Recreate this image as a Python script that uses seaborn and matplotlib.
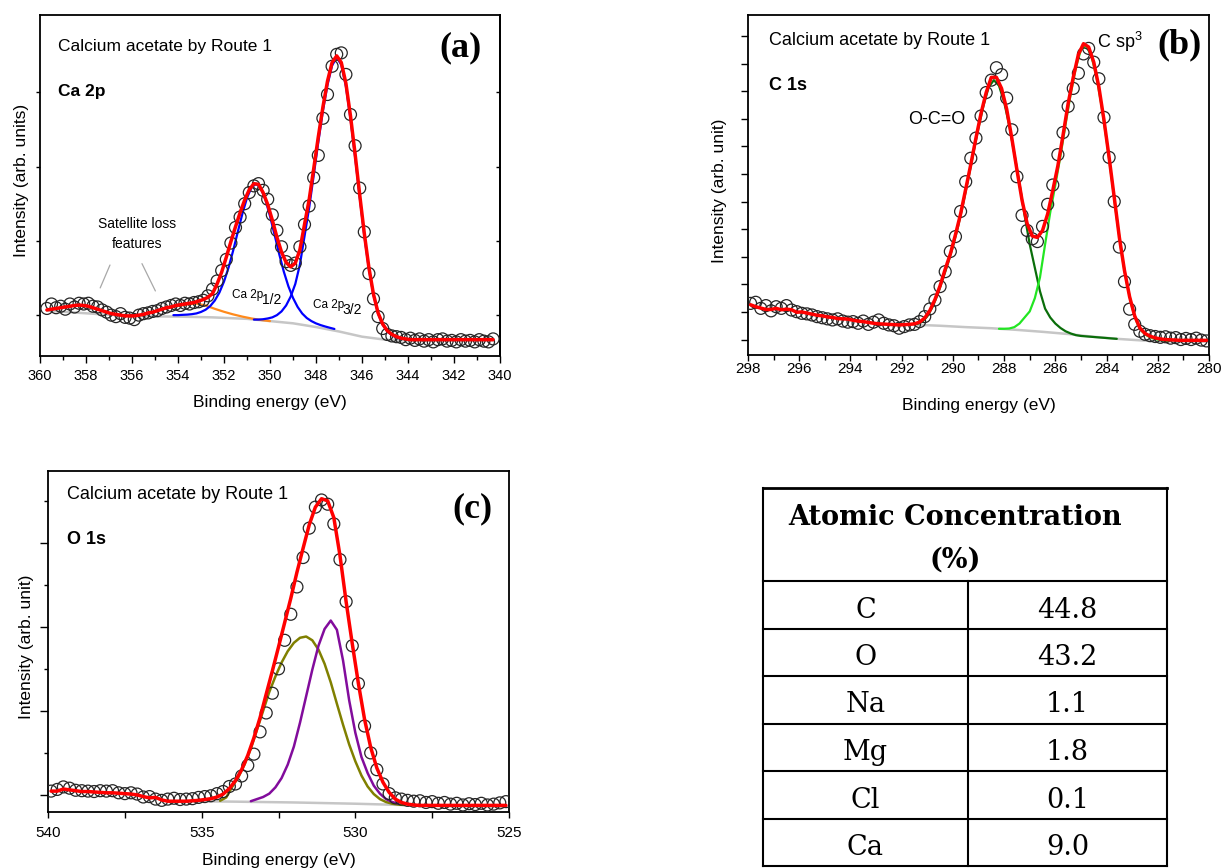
import numpy as np
import matplotlib
matplotlib.use("Agg")
import matplotlib.pyplot as plt
from matplotlib.ticker import MultipleLocator, FixedLocator
import seaborn as sns

# ======================= DATA =======================
# ---- (a) Ca 2p ----
a_energy = np.round(np.arange(359.7, 340.2, -0.2), 1)
a_counts = [0.09, 0.15, 0.10, 0.12, 0.08, 0.15, 0.11, 0.16, 0.15, 0.16,
            0.12, 0.11, 0.07, 0.04, 0.00, -0.02, 0.02, -0.03, -0.04, -0.06,
            0.00, 0.02, 0.03, 0.05, 0.06, 0.09, 0.11, 0.13, 0.15, 0.13,
            0.16, 0.15, 0.17, 0.18, 0.20, 0.26, 0.35, 0.46, 0.60, 0.75,
            0.97, 1.18, 1.32, 1.50, 1.65, 1.74, 1.77, 1.68, 1.56, 1.35,
            1.14, 0.92, 0.72, 0.67, 0.70, 0.92, 1.22, 1.47, 1.85, 2.15,
            2.65, 2.97, 3.35, 3.51, 3.53, 3.24, 2.70, 2.28, 1.71, 1.12,
            0.56, 0.22, -0.02, -0.18, -0.26, -0.28, -0.29, -0.30, -0.33, -0.31,
            -0.34, -0.32, -0.35, -0.33, -0.36, -0.33, -0.32, -0.35, -0.34, -0.36,
            -0.33, -0.35, -0.34, -0.36, -0.33, -0.35, -0.36, -0.32]
a_fit = [0.07, 0.08, 0.09, 0.10, 0.11, 0.12, 0.13, 0.135, 0.13, 0.12,
         0.10, 0.08, 0.06, 0.04, 0.02, 0.01, 0.00, -0.01, -0.01, -0.01,
         0.00, 0.01, 0.03, 0.04, 0.06, 0.08, 0.10, 0.11, 0.13, 0.14,
         0.15, 0.16, 0.17, 0.19, 0.21, 0.24, 0.29, 0.42, 0.58, 0.78,
         0.99, 1.19, 1.38, 1.55, 1.69, 1.77, 1.76, 1.65, 1.49, 1.28,
         1.05, 0.85, 0.71, 0.65, 0.70, 0.88, 1.22, 1.55, 1.97, 2.40,
         2.80, 3.15, 3.40, 3.49, 3.40, 3.12, 2.68, 2.17, 1.62, 1.10,
         0.64, 0.28, 0.03, -0.12, -0.21, -0.26, -0.29, -0.31, -0.32, -0.33,
         -0.33, -0.33, -0.33, -0.33, -0.33, -0.33, -0.33, -0.33, -0.33, -0.33,
         -0.33, -0.33, -0.33, -0.33, -0.33, -0.33, -0.33, -0.33]
a_bg_energy = [359.7, 358.5, 357.0, 355.5, 354.0, 352.5, 351.0, 350.0,
               349.0, 348.0, 347.0, 346.0, 345.0, 344.0, 342.0, 340.3]
a_bg = [0.06, 0.035, 0.005, -0.015, -0.02, -0.03, -0.05, -0.08,
        -0.11, -0.16, -0.22, -0.29, -0.33, -0.34, -0.34, -0.34]
a_sat_energy = [355.6, 355.2, 354.8, 354.4, 354.0, 353.6, 353.2, 352.8,
                352.4, 352.0, 351.6, 351.2, 350.8, 350.4, 350.0]
a_sat = [0.0, 0.03, 0.07, 0.10, 0.125, 0.145, 0.155, 0.13,
         0.085, 0.045, 0.01, -0.02, -0.045, -0.065, -0.08]
a_p12_energy = np.round(np.arange(354.2, 347.1, -0.2), 1)
a_p12 = [0.00, 0.00, 0.004, 0.007, 0.013, 0.023, 0.043, 0.073, 0.122, 0.197,
         0.304, 0.452, 0.642, 0.871, 1.121, 1.366, 1.579, 1.721, 1.768, 1.709,
         1.555, 1.333, 1.08, 0.823, 0.586, 0.388, 0.232, 0.111, 0.022, -0.039,
         -0.08, -0.111, -0.134, -0.153, -0.17, -0.186]
a_p32_energy = np.round(np.arange(350.7, 344.2, -0.2), 1)
a_p32 = [-0.06, -0.06, -0.055, -0.045, -0.03, 0.0, 0.05, 0.13, 0.25, 0.42,
         0.68, 1.06, 1.44, 1.88, 2.33, 2.75, 3.10, 3.36, 3.47, 3.37,
         3.08, 2.64, 2.13, 1.59, 1.07, 0.62, 0.27, 0.02, -0.13, -0.22,
         -0.27, -0.30, -0.32]

# ---- (b) C 1s ----
b_energy = np.round(np.arange(297.9, 280.0, -0.2), 1)
b_counts = [0.31, 0.35, 0.13, 0.23, 0.04, 0.19, 0.13, 0.23, 0.07, 0.01,
            -0.05, -0.07, -0.11, -0.17, -0.21, -0.25, -0.29, -0.25, -0.33, -0.37,
            -0.35, -0.41, -0.33, -0.45, -0.37, -0.29, -0.41, -0.47, -0.50, -0.59,
            -0.53, -0.47, -0.45, -0.35, -0.17, 0.11, 0.43, 0.92, 1.46, 2.19,
            2.73, 3.64, 4.72, 5.57, 6.30, 7.10, 7.95, 8.40, 8.85, 8.60,
            7.75, 6.60, 4.90, 3.50, 2.95, 2.65, 2.55, 3.10, 3.90, 4.60,
            5.70, 6.50, 7.45, 8.10, 8.65, 9.35, 9.55, 9.05, 8.45, 7.05,
            5.60, 4.00, 2.35, 1.10, 0.10, -0.45, -0.70, -0.81, -0.86, -0.89,
            -0.92, -0.90, -0.95, -0.93, -1.00, -0.96, -1.00, -0.95, -1.02, -1.05]
b_fit = [0.26, 0.19, 0.14, 0.09, 0.09, 0.13, 0.08, 0.10, 0.08, -0.01,
         0.00, -0.04, -0.08, -0.12, -0.14, -0.18, -0.20, -0.24, -0.25, -0.26,
         -0.30, -0.33, -0.35, -0.38, -0.41, -0.43, -0.44, -0.45, -0.46, -0.47,
         -0.46, -0.45, -0.43, -0.37, -0.22, 0.05, 0.45, 0.95, 1.55, 2.10,
         2.80, 3.55, 4.45, 5.35, 6.30, 7.20, 7.95, 8.50, 8.50, 8.10,
         7.35, 6.30, 5.15, 4.05, 3.20, 2.75, 2.70, 2.95, 3.55, 4.40,
         5.30, 6.40, 7.55, 8.50, 9.33, 9.72, 9.60, 9.05, 8.15, 6.95,
         5.60, 4.15, 2.70, 1.50, 0.55, -0.15, -0.58, -0.78, -0.88, -0.94,
         -0.98, -1.00, -1.01, -1.02, -1.03, -1.03, -1.03, -1.03, -1.03, -1.03]
b_bg_energy = [291.6, 290.5, 289.5, 288.5, 287.5, 286.5, 285.5, 284.5,
               283.5, 282.5, 281.5, 280.1]
b_bg = [-0.46, -0.50, -0.55, -0.59, -0.65, -0.72, -0.80, -0.90,
        -0.98, -1.04, -1.06, -1.07]
b_occo_energy = np.round(np.arange(291.4, 283.5, -0.2), 1)
b_occo = [-0.44, -0.36, -0.16, 0.17, 0.62, 1.17, 1.74, 2.37, 3.09, 3.92,
          4.82, 5.76, 6.68, 7.50, 8.15, 8.40, 8.20, 7.61, 6.76, 5.73,
          4.65, 3.50, 2.45, 1.60, 0.75, 0.12, -0.20, -0.42, -0.58, -0.70,
          -0.78, -0.84, -0.87, -0.885, -0.90, -0.915, -0.93, -0.945, -0.96, -0.975]
b_csp3_energy = np.round(np.arange(288.2, 281.5, -0.2), 1)
b_csp3 = [-0.61, -0.61, -0.60, -0.55, -0.42, -0.20, 0.02, 0.50, 1.25, 2.45,
          3.60, 4.60, 5.65, 6.80, 7.90, 8.85, 9.50, 9.64, 9.30, 8.55,
          7.50, 6.23, 4.83, 3.38, 2.05, 0.98, 0.15, -0.42, -0.72, -0.87,
          -0.95, -1.00, -1.03, -1.05]

# ---- (c) O 1s ----
c_energy = np.round(np.arange(539.9, 525.0, -0.2), 1)
c_counts = [0.09, 0.13, 0.19, 0.16, 0.11, 0.10, 0.09, 0.08, 0.10, 0.09,
            0.10, 0.05, 0.03, 0.05, 0.02, -0.05, -0.04, -0.10, -0.13, -0.10,
            -0.08, -0.11, -0.10, -0.09, -0.06, -0.04, -0.02, 0.03, 0.08, 0.20,
            0.26, 0.45, 0.70, 0.97, 1.50, 1.95, 2.42, 3.00, 3.68, 4.30,
            4.95, 5.65, 6.35, 6.85, 7.02, 6.92, 6.45, 5.60, 4.60, 3.55,
            2.65, 1.64, 1.00, 0.60, 0.26, 0.03, -0.07, -0.10, -0.13, -0.15,
            -0.14, -0.18, -0.16, -0.20, -0.18, -0.22, -0.20, -0.24, -0.21, -0.23,
            -0.20, -0.24, -0.22, -0.19, -0.16]
c_fit = [0.09, 0.09, 0.14, 0.12, 0.10, 0.08, 0.08, 0.07, 0.06, 0.05,
         0.05, 0.04, 0.03, 0.02, 0.00, -0.04, -0.07, -0.06, -0.12, -0.15,
         -0.15, -0.15, -0.15, -0.14, -0.13, -0.11, -0.09, -0.05, 0.02, 0.15,
         0.34, 0.60, 0.94, 1.36, 1.84, 2.40, 2.95, 3.52, 4.10, 4.68,
         5.30, 5.87, 6.43, 6.85, 7.05, 7.00, 6.60, 5.70, 4.60, 3.60,
         2.65, 1.80, 1.13, 0.64, 0.30, 0.06, -0.10, -0.18, -0.22, -0.24,
         -0.25, -0.25, -0.25, -0.25, -0.25, -0.25, -0.25, -0.25, -0.25, -0.25,
         -0.25, -0.25, -0.25, -0.25, -0.25]
c_bg_energy = [535.5, 534.0, 532.0, 530.0, 528.0, 525.1]
c_bg = [-0.15, -0.16, -0.18, -0.21, -0.25, -0.28]
c_p1_energy = np.round(np.arange(533.4, 528.5, -0.2), 1)
c_p1 = [-0.15, -0.10, -0.05, 0.03, 0.18, 0.40, 0.72, 1.15, 1.72, 2.35,
        2.98, 3.55, 3.95, 4.15, 3.93, 3.20, 2.25, 1.48, 0.90, 0.52,
        0.22, 0.03, -0.10, -0.17, -0.21]
c_p2_energy = np.round(np.arange(534.4, 528.3, -0.2), 1)
c_p2 = [-0.14, -0.06, 0.20, 0.43, 0.73, 1.10, 1.55, 2.00, 2.45, 2.82,
        3.15, 3.42, 3.62, 3.74, 3.77, 3.68, 3.46, 3.12, 2.68, 2.17,
        1.67, 1.20, 0.80, 0.46, 0.20, 0.02, -0.10, -0.17, -0.21, -0.23,
        -0.24]

# ---- table ----
table_elements = ["C", "O", "Na", "Mg", "Cl", "Ca"]
table_values = ["44.8", "43.2", "1.1", "1.8", "0.1", "9.0"]

for e, v in [(a_energy, a_counts), (a_energy, a_fit), (a_p12_energy, a_p12),
             (a_p32_energy, a_p32), (b_energy, b_counts), (b_energy, b_fit),
             (b_occo_energy, b_occo), (b_csp3_energy, b_csp3),
             (c_energy, c_counts), (c_energy, c_fit), (c_p1_energy, c_p1),
             (c_p2_energy, c_p2)]:
    assert len(e) == len(v), (len(e), len(v))

# ======================= STYLE =======================
sns.set_theme(style="ticks", rc={"axes.edgecolor": "black", "text.color": "black",
                                 "xtick.color": "black", "ytick.color": "black",
                                 "axes.labelcolor": "black"})
plt.rcParams["font.family"] = ["Liberation Sans", "DejaVu Sans"]
plt.rcParams["mathtext.default"] = "regular"

W, H = 1225, 868
fig = plt.figure(figsize=(W / 100, H / 100), dpi=100)


def px_axes(l, t, r, b):
    return fig.add_axes([l / W, 1 - b / H, (r - l) / W, (b - t) / H])


RED, BLUE, ORANGE, GRAY = "#ff0000", "#0000ff", "#ff8a1c", "#c6c6c6"
DKGREEN, LTGREEN, PURPLE, OLIVE = "#0a6e0a", "#22e622", "#820c9c", "#808000"


def line(ax, x, y, color, lw, z):
    sns.lineplot(x=x, y=y, ax=ax, color=color, linewidth=lw, estimator=None,
                 sort=False, zorder=z, legend=False)


def points(ax, x, y):
    sns.scatterplot(x=x, y=y, ax=ax, s=74, facecolor="none", edgecolor="#262626",
                    linewidth=0.9, zorder=3, legend=False)


def frame(ax, lw=1.3):
    for s in ax.spines.values():
        s.set_visible(True)
        s.set_linewidth(lw)
        s.set_color("black")


def sub_label(ax, x, y, base, sub):
    ax.text(x, y, base, fontsize=8.5, ha="left", va="baseline")
    ax.annotate(sub, xy=(x, y), xytext=(21.3, -4), textcoords="offset points",
                fontsize=10, ha="left", va="baseline")


# ======================= (a) =======================
ax = px_axes(40, 15, 500, 356)
line(ax, a_bg_energy, a_bg, GRAY, 1.8, 1)
line(ax, a_sat_energy, a_sat, ORANGE, 1.6, 2)
line(ax, a_p12_energy, a_p12, BLUE, 1.6, 2)
line(ax, a_p32_energy, a_p32, BLUE, 1.6, 2)
points(ax, a_energy, a_counts)
line(ax, a_energy, a_fit, RED, 2.5, 4)
ax.set_xlim(360, 340)
ax.set_ylim(-0.55, 4.04)
ax.xaxis.set_major_locator(MultipleLocator(2))
ax.xaxis.set_minor_locator(MultipleLocator(1))
ax.yaxis.set_major_locator(FixedLocator([0, 1, 2, 3]))
ax.tick_params(axis="x", which="major", direction="out", length=5, width=1,
               labelsize=10.5, pad=4.5, top=False)
ax.tick_params(axis="x", which="minor", direction="out", length=3, width=1, top=False)
ax.tick_params(axis="y", which="major", direction="out", length=3, width=1,
               labelleft=False, right=False)
sec = ax.secondary_yaxis("right")
sec.yaxis.set_major_locator(FixedLocator([0, 1, 2, 3]))
sec.tick_params(axis="y", direction="in", length=3, width=1, labelright=False)
sec.spines["right"].set_linewidth(1.3)
frame(ax)
ax.set_xlabel("Binding energy (eV)", fontsize=12.5)
ax.xaxis.set_label_coords(0.5, -0.114)
ax.set_ylabel("Intensity (arb. units)", fontsize=12.5)
ax.yaxis.set_label_coords(-0.024, 0.516)
ax.text(0.040, 0.895, "Calcium acetate by Route 1", transform=ax.transAxes,
        fontsize=12.5, va="baseline", ha="left")
ax.text(0.040, 0.763, "Ca 2p", transform=ax.transAxes, fontsize=12.5,
        fontweight="bold", va="baseline", ha="left")
ax.text(0.960, 0.905, "(a)", transform=ax.transAxes, fontsize=26,
        fontweight="bold", family="Liberation Serif", ha="right", va="center")
sub_label(ax, 351.64, 0.229, "Ca 2p", "1/2")
sub_label(ax, 348.12, 0.09, "Ca 2p", "3/2")
ax.text(355.78, 1.09, "Satellite loss\nfeatures", fontsize=10, ha="center",
        va="center", linespacing=1.55)
for (x0, y0), (x1, y1) in [((356.91, 0.709), (357.43, 0.332)),
                           ((355.62, 0.727), (354.93, 0.292))]:
    ax.annotate("", xy=(x1, y1), xytext=(x0, y0),
                arrowprops=dict(arrowstyle="-", color="#a8a8a8", lw=0.9))

# ======================= (b) =======================
ax = px_axes(748, 15, 1209, 355)
line(ax, b_bg_energy, b_bg, GRAY, 1.8, 1)
line(ax, b_occo_energy, b_occo, DKGREEN, 1.6, 2)
line(ax, b_csp3_energy, b_csp3, LTGREEN, 1.6, 2)
points(ax, b_energy, b_counts)
line(ax, b_energy, b_fit, RED, 2.5, 4)
ax.set_xlim(298, 280)
ax.set_ylim(-1.56, 10.76)
ax.xaxis.set_major_locator(MultipleLocator(2))
ax.xaxis.set_minor_locator(MultipleLocator(1))
ax.yaxis.set_major_locator(MultipleLocator(1))
ax.tick_params(axis="x", which="major", direction="out", length=4, width=1,
               labelsize=11, pad=1.2, top=False)
ax.tick_params(axis="x", which="minor", direction="out", length=3.5, width=1, top=False)
ax.tick_params(axis="y", which="major", direction="out", length=5, width=1,
               labelleft=False, right=False)
frame(ax)
ax.set_xlabel("Binding energy (eV)", fontsize=12.5)
ax.xaxis.set_label_coords(0.5, -0.127)
ax.set_ylabel("Intensity (arb. unit)", fontsize=12.5)
ax.yaxis.set_label_coords(-0.0445, 0.482)
ax.text(0.046, 0.912, "Calcium acetate by Route 1", transform=ax.transAxes,
        fontsize=13, va="baseline", ha="left")
ax.text(0.046, 0.779, "C 1s", transform=ax.transAxes, fontsize=13,
        fontweight="bold", va="baseline", ha="left")
ax.text(0.984, 0.912, "(b)", transform=ax.transAxes, fontsize=26,
        fontweight="bold", family="Liberation Serif", ha="right", va="center")
ax.text(291.74, 6.81, "O-C=O", fontsize=13, ha="left", va="baseline")
ax.text(284.36, 9.55, r"C sp$^{3}$", fontsize=13, ha="left", va="baseline")

# ======================= (c) =======================
ax = px_axes(48, 471, 509, 811.7)
line(ax, c_bg_energy, c_bg, GRAY, 1.8, 1)
line(ax, c_p2_energy, c_p2, OLIVE, 1.8, 2)
line(ax, c_p1_energy, c_p1, PURPLE, 1.8, 2)
points(ax, c_energy, c_counts)
line(ax, c_energy, c_fit, RED, 2.5, 4)
ax.set_xlim(540, 525)
ax.set_ylim(-0.40, 7.71)
ax.xaxis.set_major_locator(MultipleLocator(5))
ax.xaxis.set_minor_locator(MultipleLocator(2.5))
ax.yaxis.set_major_locator(FixedLocator([0, 2, 4, 6]))
ax.yaxis.set_minor_locator(FixedLocator([1, 3, 5, 7]))
ax.tick_params(axis="x", which="major", direction="out", length=4, width=1,
               labelsize=11, pad=6, top=False)
ax.tick_params(axis="x", which="minor", direction="out", length=4, width=1, top=False)
ax.tick_params(axis="y", which="major", direction="out", length=6, width=1,
               labelleft=False, right=False)
ax.tick_params(axis="y", which="minor", direction="out", length=3, width=1, right=False)
frame(ax)
ax.set_xlabel("Binding energy (eV)", fontsize=12.5)
ax.xaxis.set_label_coords(0.5, -0.122)
ax.set_ylabel("Intensity (arb. unit)", fontsize=12.5)
ax.yaxis.set_label_coords(-0.0304, 0.484)
ax.text(0.041, 0.917, "Calcium acetate by Route 1", transform=ax.transAxes,
        fontsize=13, va="baseline", ha="left")
ax.text(0.041, 0.786, "O 1s", transform=ax.transAxes, fontsize=13,
        fontweight="bold", va="baseline", ha="left")
ax.text(0.965, 0.888, "(c)", transform=ax.transAxes, fontsize=26,
        fontweight="bold", family="Liberation Serif", ha="right", va="center")

# ======================= table =======================
axt = fig.add_axes([0, 0, 1, 1], zorder=-1)
axt.set_xlim(0, W)
axt.set_ylim(H, 0)
axt.axis("off")
T_L, T_R, T_MID = 763, 1167, 968
T_TOP, T_HEAD, ROW_H = 488, 581, 47.5
n_rows = len(table_elements)
T_BOT = T_HEAD + n_rows * ROW_H
lk = dict(color="black", solid_capstyle="projecting")
axt.plot([T_L, T_R], [T_TOP, T_TOP], lw=2.0, **lk)
for i in range(n_rows + 1):
    y = T_HEAD + i * ROW_H
    axt.plot([T_L, T_R], [y, y], lw=1.5, **lk)
for x, y0 in [(T_L, T_TOP), (T_R, T_TOP), (T_MID, T_HEAD)]:
    axt.plot([x, x], [y0, T_BOT], lw=1.5, **lk)
serif = "DejaVu Serif"
hx = (T_L + T_R) / 2 - 9.5
axt.text(hx, T_TOP + 37, "Atomic Concentration", family=serif, fontsize=19.5,
         fontweight="bold", ha="center", va="baseline")
axt.text(hx, T_TOP + 80, "(%)", family=serif, fontsize=19.5,
         fontweight="bold", ha="center", va="baseline")
for i, (el, val) in enumerate(zip(table_elements, table_values)):
    yb = T_HEAD + i * ROW_H + 36.5
    axt.text((T_L + T_MID) / 2, yb, el, family=serif, fontsize=19.5,
             ha="center", va="baseline")
    axt.text((T_MID + T_R) / 2, yb, val, family=serif, fontsize=19.5,
             ha="center", va="baseline")

fig.savefig("out.png", dpi=100)
